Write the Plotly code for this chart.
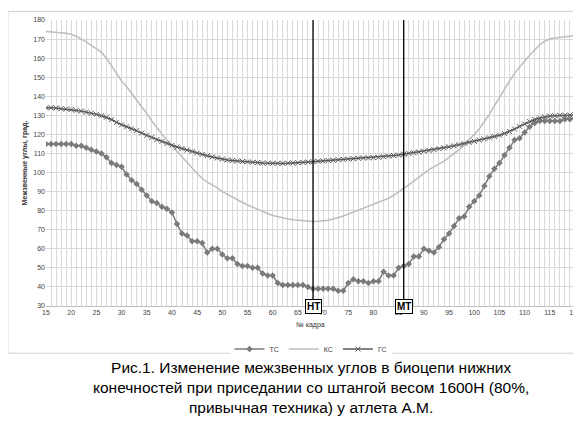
import plotly.graph_objects as go

frames = list(range(15, 121))
tc = [115,115,115,115,115,115, 114,114,113,112,111, 110,108,105,104,103, 99,96,94,91,88, 85,84,82,81,79,
      73,68,67,64,64, 63,58,60,60,57, 55,55,52,51,51, 50,50,47,46,46, 42,41,41,41,41, 41,40,39,39,39,
      39,39,38,38,42, 44,43,43,42,43, 43,48,46,46,50, 51,52,56,56,60, 59,58,61,65,68, 72,76,77,82,85,
      88,93,98,102,105, 109,113,117,118,121, 124,126,127,127,127, 127,127,128,128,128]
kc = [174,173.8,173.6,173.3,173,172.5, 171.5,170,168.5,166.5,165, 163,160,156,152,148, 145,141.5,138,135,131,
      127,123.5,120,117,114, 111,108,105,102,99.5, 97,95,93.5,92,90, 88.5,87,85.5,84.3,83, 81.8,80.5,79.5,78.5,77.5,
      76.8,76.2,75.6,75.2,74.9, 74.6,74.4,74.3,74.4,74.6, 75,75.6,76.3,77.2,78.2, 79.2,80.2,81.2,82.2,83.2,
      84.2,85.3,86.5,88,89.7, 91.5,93.5,95.5,97.5,99.5, 101.5,103,104.5,106,108, 110,112,114.5,117,120,
      123,126.5,130.5,135,139.5, 144,148,152,155.5,158.5, 161.5,164.5,167,169,170, 170.5,171,171.2,171.5,172]
gc = [134,134,133.8,133.5,133.3,133, 132.6,132.2,131.7,131.1,130.5, 129.8,129,127.8,126.3,125, 124,123,122,120.7,119.5,
      118.4,117.3,116.3,115.3,114.3, 113.4,112.6,111.8,111,110.2, 109.5,108.8,108.2,107.6,107, 106.6,106.3,106,105.8,105.6,
      105.4,105.2,105,104.9,104.8, 104.8,104.8,104.9,105,105.1, 105.3,105.5,105.7,105.9,106.1, 106.3,106.5,106.7,106.9,107.1,
      107.3,107.5,107.6,107.7,107.8, 108,108.3,108.6,108.9,109.2, 109.6,110,110.4,110.8,111.2, 111.6,112,112.5,113,113.5,
      114,114.6,115.2,115.8,116.4, 117,117.6,118.2,118.9,119.6, 120.5,121.5,122.8,124.2,125.5, 126.7,127.8,128.6,129.2,129.6,
      129.8,130,130,130.1,130.2]
marks = [(68, "НТ"), (86, "МТ")]
xticks = list(range(15, 121, 5))
yticks = list(range(30, 181, 10))

fig = go.Figure()
fig.add_trace(go.Scatter(x=frames[:len(tc)], y=tc, name="ТС", mode="lines+markers",
                         line=dict(color="#7a7a7a", width=1.5), marker=dict(symbol="diamond", size=5, color="#7a7a7a")))
fig.add_trace(go.Scatter(x=frames[:len(kc)], y=kc, name="КС", mode="lines",
                         line=dict(color="#bdbdbd", width=1.5)))
fig.add_trace(go.Scatter(x=frames[:len(gc)], y=gc, name="ГС", mode="lines+markers",
                         line=dict(color="#5a5a5a", width=1.5), marker=dict(symbol="x-thin", size=5, line=dict(color="#5a5a5a", width=1))))
for xv, lab in marks:
    fig.add_shape(type="line", x0=xv, x1=xv, y0=30, y1=180, xref="x", yref="y", line=dict(color="black", width=1.3))
    fig.add_annotation(x=xv, y=30, text="<b>"+lab+"</b>", showarrow=False, yanchor="middle",
                       font=dict(size=10, color="black", family="Arial"), bgcolor="white",
                       bordercolor="black", borderwidth=1, borderpad=1)
fig.add_shape(type="rect", xref="paper", yref="paper", x0=-0.072, x1=1.02, y0=-0.165, y1=1.03,
              line=dict(color="#d0d0d0", width=1))
fig.add_annotation(xref="paper", yref="paper", x=0.5, y=-0.18, yanchor="top", showarrow=False, align="center",
                   text="Рис.1. Изменение межзвенных углов в биоцепи нижних<br>конечностей при приседании со штангой весом 1600Н (80%,<br>привычная техника) у атлета А.М.",
                   font=dict(size=15.5, color="black", family="Arial"))
fig.update_xaxes(range=[15, 120], tickvals=xticks, tickmode="array", tickfont=dict(size=7, color="#444"),
                 title=dict(text="№ кадра", font=dict(size=7, color="#333"), standoff=6),
                 showgrid=True, gridcolor="#d9d9d9",
                 minor=dict(dtick=1, tick0=15, showgrid=True, gridcolor="#d9d9d9"), zeroline=False,
                 showline=True, linecolor="#bfbfbf")
fig.update_yaxes(range=[30, 180], tickvals=yticks, tickfont=dict(size=7, color="#444"),
                 title=dict(text="<b>Межзвенные углы, град.</b>", font=dict(size=7, color="#333"), standoff=4),
                 showgrid=True, gridcolor="#d9d9d9", zeroline=False)
fig.update_layout(width=581, height=425, margin=dict(l=38, r=14, t=8, b=127),
                  plot_bgcolor="white", paper_bgcolor="white", font=dict(family="Arial"),
                  legend=dict(orientation="h", x=0.5, xanchor="center", y=-0.1, yanchor="top",
                              font=dict(size=7, color="#444")))
fig.write_html("out.html")
